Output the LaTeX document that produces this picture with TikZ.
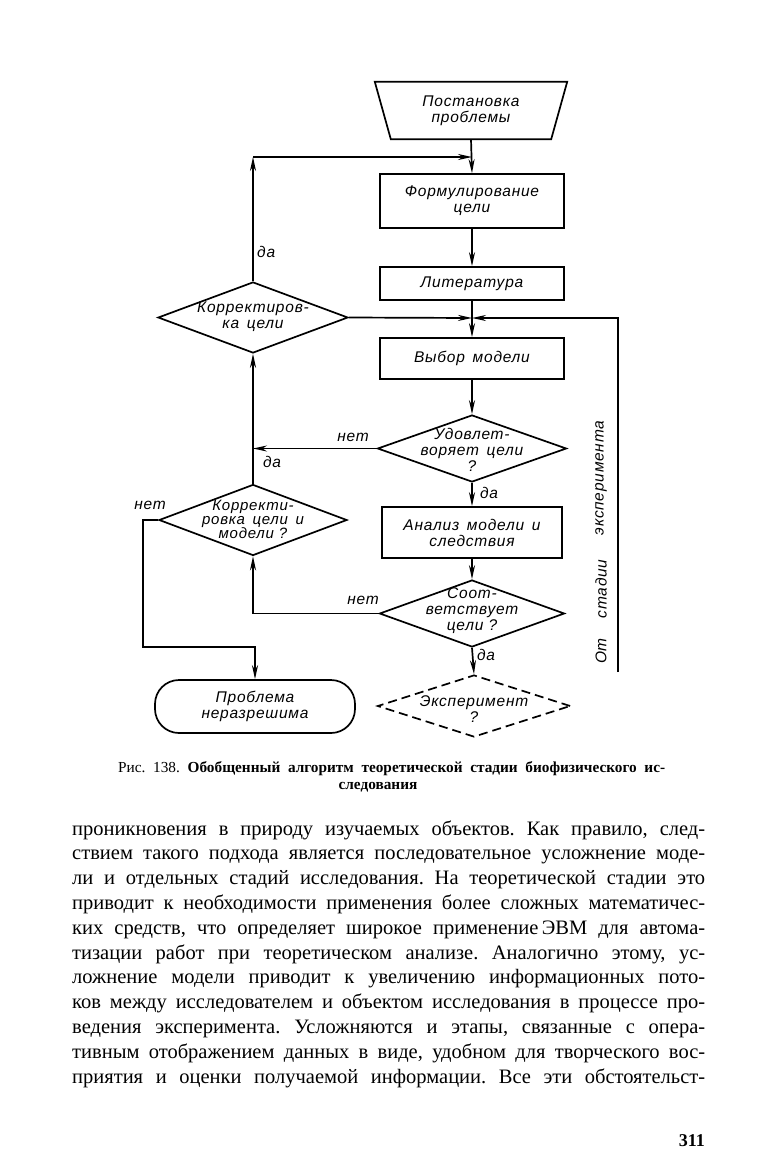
\documentclass[tikz,border=0pt]{standalone}
\usepackage{fontspec}
\setmainfont{Liberation Serif}
\newfontfamily\dfont[LetterSpace=5]{Liberation Sans}
\newcommand\dtext{\dfont\itshape\fontsize{15.5}{16}\selectfont}
\usetikzlibrary{arrows.meta,shapes.geometric,calc}
\frenchspacing
\begin{document}
\begin{tikzpicture}[x=1pt,y=-1pt,
  ln/.style={line width=1.7pt},
  arr/.style={ln,-{Stealth[length=14pt,width=6pt]}},
  box/.style={draw,ln,minimum width=184pt,inner sep=0pt,font=\dtext,align=center},
  dia/.style={draw,ln,diamond,inner sep=0pt},
  dt/.style={font=\dtext,align=center,inner sep=0pt},
  lab/.style={font=\dtext,inner sep=0pt},
  vt/.style={font=\dtext,inner sep=0pt,rotate=90},
  body/.style={anchor=base west,inner sep=0pt,font=\fontsize{20.5}{24}\selectfont},
]
\fill[white] (0,0) rectangle (760,1154);
\useasboundingbox (0,0) rectangle (760,1154);

% nodes
\node[dt,minimum width=160pt,minimum height=57pt] (trap) at (471,110.5) {Постановка\\проблемы};
\draw[ln] ($(trap.north west)+(-16,0)$) -- ($(trap.north east)+(16,0)$) -- (trap.south east) -- (trap.south west) -- cycle;
\node[box,minimum height=54pt] (f) at (472,201) {Формулирование\\цели};
\node[box,minimum height=33pt] (lit) at (472,283.5) {Литература};
\node[box,minimum height=41pt] (vyb) at (472,358.5) {Выбор\enspace модели};
\node[dia,minimum width=189pt,minimum height=67pt] (d1) at (472,448.5) {};
\node[dt] (d1t) at (472,450) {Удовлет-\\воряет\enspace цели\\?};
\node[box,minimum width=180pt,minimum height=51pt] (an) at (472,532.5) {Анализ\enspace модели\enspace и\\следствия};
\node[dia,minimum width=185pt,minimum height=67pt] (d2) at (472,613.5) {};
\node[dt] (d2t) at (472,611) {Соот-\\ветствует\\цели ?};
\node[dia,dashed,dash pattern=on 9pt off 5pt,minimum width=193pt,minimum height=62pt] (d3) at (474,706) {};
\node[dt] (d3t) at (474,709) {Эксперимент\\?};
\node[dia,minimum width=190pt,minimum height=71pt] (dk1) at (253,317.5) {};
\node[dt] (dk1t) at (253,317) {Корректиров-\\ка\enspace цели};
\node[dia,minimum width=188pt,minimum height=71pt] (dk2) at (253,520) {};
\node[dt,font=\dfont\itshape\fontsize{15}{14}\selectfont] (dk2t) at (253,519) {Корректи-\\ровка\enspace цели\enspace и\\модели ?};
\node[draw,ln,rounded corners=24pt,minimum width=200pt,minimum height=53pt,dt] (term) at (255,706.5) {Проблема\\неразрешима};

% connectors
\coordinate (j1) at (472,157);
\coordinate (c1) at (253,157);
\coordinate (j2) at (472,318);
\coordinate (r1) at (618,672);
\coordinate (r2) at (618,318);
\coordinate (c3) at (143,647);
\draw[arr] (trap.south) -- (f.north);
\draw[arr] (dk1.north) -- (c1);
\draw[arr] (c1) -- (j1);
\draw[arr] (f.south) -- (lit.north);
\draw[arr] (lit.south) -- (vyb.north);
\draw[arr] (dk1.east) -- (j2);
\draw[arr] (r1) -- (r2) -- (j2);
\draw[arr] (vyb.south) -- (d1.north);
\draw[arr] (d1.west) -- (d1.west -| dk1.south);
\draw[arr] (dk2.north) -- (dk1.south);
\draw[arr] (d1.south) -- (an.north);
\draw[arr] (an.south) -- (d2.north);
\draw[arr] (d2.west) -| (dk2.south);
\draw[arr] (d2.south) -- (d3.north);
\draw[arr] (dk2.west) -- (dk2.west -| c3) -- (c3) -- (c3 -| term.north) -- (term.north);

% labels
\node[lab,anchor=west] (l1) at (257,252) {да};
\node[lab] (l2) at (353,437) {нет};
\node[lab] (l3) at (272,462) {да};
\node[lab] (l4) at (489,493) {да};
\node[lab] (l5) at (150,505) {нет};
\node[lab] (l6) at (363,600) {нет};
\node[lab] (l7) at (486,655) {да};
\node[vt] (e1) at (601,478) {эксперимента};
\node[vt] (e2) at (601,589) {стадии};
\node[vt] (e3) at (601,651) {От};

% caption
\node[anchor=base west,inner sep=0pt,font=\fontsize{15.3}{18}\selectfont] (cap1) at (118,772)
  {\makebox[547pt][s]{Рис. 138. \textbf{Обобщенный алгоритм теоретической стадии биофизического ис-}}};
\node[anchor=base,inner sep=0pt,font=\fontsize{15.3}{18}\selectfont] (cap2) at (378,789) {\textbf{следования}};

% body text
\node[body] (b1) at (72,835.0) {\makebox[633pt][s]{проникновения в природу изучаемых объектов. Как правило, след-}};
\node[body] (b2) at (72,859.8) {\makebox[633pt][s]{ствием такого подхода является последовательное усложнение моде-}};
\node[body] (b3) at (72,884.6) {\makebox[633pt][s]{ли и отдельных стадий исследования. На теоретической стадии это}};
\node[body] (b4) at (72,909.4) {\makebox[633pt][s]{приводит к необходимости применения более сложных математичес-}};
\node[body] (b5) at (72,934.2) {\makebox[633pt][s]{ких средств, что определяет широкое применение\,ЭВМ для автома-}};
\node[body] (b6) at (72,959.0) {\makebox[633pt][s]{тизации работ при теоретическом анализе. Аналогично этому, ус-}};
\node[body] (b7) at (72,983.8) {\makebox[633pt][s]{ложнение модели приводит к увеличению информационных пото-}};
\node[body] (b8) at (72,1008.6) {\makebox[633pt][s]{ков между исследователем и объектом исследования в процессе про-}};
\node[body] (b9) at (72,1033.4) {\makebox[633pt][s]{ведения эксперимента. Усложняются и этапы, связанные с опера-}};
\node[body] (b10) at (72,1058.2) {\makebox[633pt][s]{тивным отображением данных в виде, удобном для творческого вос-}};
\node[body] (b11) at (72,1083.0) {\makebox[633pt][s]{приятия и оценки получаемой информации. Все эти обстоятельст-}};
\node[anchor=base east,inner sep=0pt,font=\fontsize{18}{20}\selectfont] (pg) at (705,1146) {\textbf{311}};
\end{tikzpicture}
\end{document}
